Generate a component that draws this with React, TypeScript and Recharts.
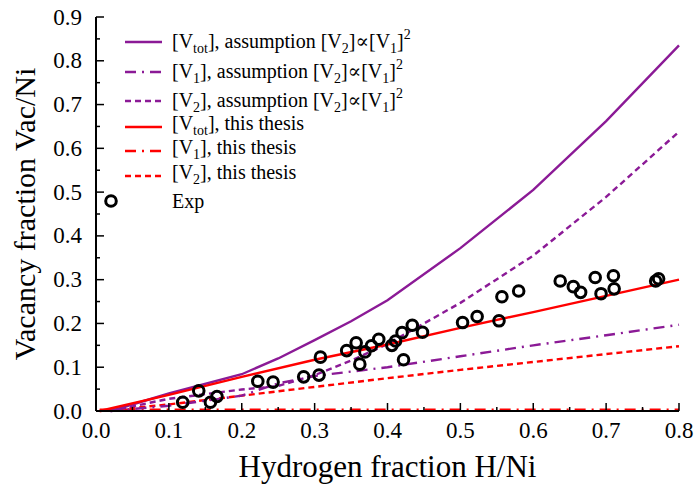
import { ComposedChart, Line, Scatter, XAxis, YAxis } from 'recharts';

// tick positions (labels only on every 0.1)
const xTicks = [0, 0.05, 0.1, 0.15, 0.2, 0.25, 0.3, 0.35, 0.4, 0.45, 0.5, 0.55, 0.6, 0.65, 0.7, 0.75, 0.8];
const yTicks = [0, 0.05, 0.1, 0.15, 0.2, 0.25, 0.3, 0.35, 0.4, 0.45, 0.5, 0.55, 0.6, 0.65, 0.7, 0.75, 0.8, 0.85, 0.9];

// assumption [V2] ~ [V1]^2 (purple)
const assumpX = [0.02, 0.1, 0.2, 0.25, 0.3, 0.35, 0.4, 0.5, 0.6, 0.7, 0.8];
const assumpVtot = [0, 0.04, 0.084, 0.12, 0.162, 0.205, 0.253, 0.372, 0.505, 0.662, 0.835];
const assumpV1 = [0, 0.012, 0.035, 0.063, 0.08, 0.09, 0.1, 0.125, 0.15, 0.173, 0.197];
const assumpV2 = [0, 0.028, 0.049, 0.057, 0.082, 0.115, 0.153, 0.247, 0.355, 0.489, 0.638];

// this thesis (red)
const thesisX = [0.005, 0.1, 0.2, 0.3, 0.4, 0.5, 0.6, 0.7, 0.8];
const thesisVtot = [0, 0.037, 0.078, 0.117, 0.152, 0.19, 0.226, 0.263, 0.3];
const thesisV1 = [0.003, 0.003, 0.003, 0.003, 0.003, 0.003, 0.003, 0.003, 0.003];
const thesisV2 = [0, 0.015, 0.035, 0.055, 0.075, 0.094, 0.112, 0.13, 0.148];

// experimental points
const expX = [0.119, 0.141, 0.157, 0.166, 0.222, 0.243, 0.285, 0.306, 0.308, 0.344, 0.357, 0.362, 0.369, 0.378, 0.388, 0.406, 0.411, 0.42, 0.422, 0.434, 0.448, 0.503, 0.523, 0.553, 0.557, 0.58, 0.637, 0.655, 0.665, 0.685, 0.693, 0.71, 0.711, 0.768, 0.772];
const expY = [0.02, 0.046, 0.02, 0.033, 0.068, 0.066, 0.078, 0.082, 0.123, 0.138, 0.156, 0.107, 0.135, 0.149, 0.164, 0.15, 0.16, 0.179, 0.117, 0.196, 0.18, 0.202, 0.216, 0.206, 0.261, 0.274, 0.297, 0.284, 0.271, 0.305, 0.268, 0.309, 0.279, 0.297, 0.302];

const PURPLE = '#8b1a96';
const RED = '#ff0000';
const DASHDOT = '11 6 2 6';
const DASHED = '6 4';
const FONT = '"Liberation Serif", "DejaVu Serif", serif';

const toPts = (xs: number[], ys: number[]) => xs.map((x, i) => ({ x, y: ys[i] }));

const isMajor = (v: number) => Math.round(v * 100) % 10 === 0;

const BottomTick = ({ x, y, payload }: any) => (
  <g>
    <line x1={x} y1={y} x2={x} y2={y - (isMajor(payload.value) ? 8 : 4)} stroke="#000" strokeWidth={1.5} />
    {isMajor(payload.value) && (
      <text x={x} y={y + 27} textAnchor="middle" fill="#000" style={{ fontSize: 23, fontFamily: FONT }}>
        {payload.value.toFixed(1)}
      </text>
    )}
  </g>
);
const TopTick = ({ x, y, payload }: any) => (
  <line x1={x} y1={y} x2={x} y2={y + (isMajor(payload.value) ? 8 : 4)} stroke="#000" strokeWidth={1.5} />
);
const LeftTick = ({ x, y, payload }: any) => (
  <g>
    <line x1={x} y1={y} x2={x + (isMajor(payload.value) ? 8 : 4)} y2={y} stroke="#000" strokeWidth={1.5} />
    {isMajor(payload.value) && (
      <text x={x - 14} y={y} textAnchor="end" dominantBaseline="central" fill="#000" style={{ fontSize: 23, fontFamily: FONT }}>
        {payload.value.toFixed(1)}
      </text>
    )}
  </g>
);
const RightTick = ({ x, y, payload }: any) => (
  <line x1={x} y1={y} x2={x - (isMajor(payload.value) ? 8 : 4)} y2={y} stroke="#000" strokeWidth={1.5} />
);

const Ring = ({ cx, cy }: any) => <circle cx={cx} cy={cy} r={5.3} fill="none" stroke="#000" strokeWidth={3} />;

const sub = (t: string) => <span style={{ fontSize: 14, verticalAlign: -5 }}>{t}</span>;
const sup = (t: string) => <span style={{ fontSize: 14, verticalAlign: 9 }}>{t}</span>;
const assumption = (
  <>
    , assumption [V{sub('2')}]∝[V{sub('1')}]{sup('2')}
  </>
);

const legendRows = [
  { color: PURPLE, dash: undefined, label: <>[V{sub('tot')}]{assumption}</>, top: 42 },
  { color: PURPLE, dash: DASHDOT, label: <>[V{sub('1')}]{assumption}</>, top: 72 },
  { color: PURPLE, dash: DASHED, label: <>[V{sub('2')}]{assumption}</>, top: 101 },
  { color: RED, dash: undefined, label: <>[V{sub('tot')}], this thesis</>, top: 127 },
  { color: RED, dash: DASHDOT, label: <>[V{sub('1')}], this thesis</>, top: 151 },
  { color: RED, dash: DASHED, label: <>[V{sub('2')}], this thesis</>, top: 176 },
];

export default function App() {
  return (
    <div style={{ position: 'fixed', left: 0, top: 0, width: 695, height: 484, background: '#fff', fontFamily: FONT }}>
      <ComposedChart width={695} height={484} margin={{ top: 17, right: 16, bottom: 0, left: 0 }}>
        <XAxis
          dataKey="x"
          type="number"
          domain={[0, 0.8]}
          ticks={xTicks}
          interval={0}
          height={73}
          tickSize={0}
          tickMargin={0}
          axisLine={{ stroke: '#000', strokeWidth: 2 }}
          tickLine={false}
          tick={<BottomTick />}
          label={({ viewBox }: any) => (
            <text x={viewBox.x + viewBox.width / 2} y={viewBox.y + 66} textAnchor="middle" fill="#000" style={{ fontSize: 31, fontFamily: FONT }}>
              Hydrogen fraction H/Ni
            </text>
          )}
        />
        <XAxis
          xAxisId="top"
          orientation="top"
          type="number"
          domain={[0, 0.8]}
          ticks={xTicks}
          interval={0}
          height={0}
          tickSize={0}
          tickMargin={0}
          axisLine={{ stroke: '#000', strokeWidth: 2 }}
          tickLine={false}
          tick={<TopTick />}
        />
        <YAxis
          type="number"
          domain={[0, 0.9]}
          ticks={yTicks}
          interval={0}
          width={96}
          tickSize={0}
          tickMargin={0}
          axisLine={{ stroke: '#000', strokeWidth: 2 }}
          tickLine={false}
          tick={<LeftTick />}
          label={({ viewBox }: any) => (
            <text
              x={24}
              y={viewBox.y + viewBox.height / 2}
              transform={`rotate(-90 24 ${viewBox.y + viewBox.height / 2})`}
              textAnchor="middle"
              dominantBaseline="central"
              fill="#000"
              style={{ fontSize: 30, fontFamily: FONT }}
            >
              Vacancy fraction Vac/Ni
            </text>
          )}
        />
        <YAxis
          yAxisId="right"
          orientation="right"
          type="number"
          domain={[0, 0.9]}
          ticks={yTicks}
          interval={0}
          width={0}
          tickSize={0}
          tickMargin={0}
          axisLine={{ stroke: '#000', strokeWidth: 2 }}
          tickLine={false}
          tick={<RightTick />}
        />
        <Line data={toPts(thesisX, thesisV1)} dataKey="y" stroke={RED} strokeWidth={2.4} strokeDasharray={DASHDOT} dot={false} isAnimationActive={false} />
        <Line data={toPts(thesisX, thesisV2)} dataKey="y" stroke={RED} strokeWidth={2.4} strokeDasharray={DASHED} dot={false} isAnimationActive={false} />
        <Line data={toPts(assumpX, assumpV1)} dataKey="y" stroke={PURPLE} strokeWidth={2.4} strokeDasharray={DASHDOT} dot={false} isAnimationActive={false} />
        <Line data={toPts(assumpX, assumpV2)} dataKey="y" stroke={PURPLE} strokeWidth={2.4} strokeDasharray={DASHED} dot={false} isAnimationActive={false} />
        <Line data={toPts(assumpX, assumpVtot)} dataKey="y" stroke={PURPLE} strokeWidth={2.4} dot={false} isAnimationActive={false} />
        <Line data={toPts(thesisX, thesisVtot)} dataKey="y" stroke={RED} strokeWidth={2.4} dot={false} isAnimationActive={false} />
        <Scatter data={toPts(expX, expY)} dataKey="y" shape={<Ring />} isAnimationActive={false} />
      </ComposedChart>

      {legendRows.map((r, i) => (
        <div key={i} style={{ position: 'absolute', left: 124, top: r.top - 13, height: 26, display: 'flex', alignItems: 'center', whiteSpace: 'nowrap', fontSize: 20, lineHeight: '26px' }}>
          <svg width={40} height={26} style={{ display: 'block' }}>
            <line x1={1} y1={13} x2={38} y2={13} stroke={r.color} strokeWidth={2.4} strokeDasharray={r.dash} />
          </svg>
          <span style={{ marginLeft: 8 }}>{r.label}</span>
        </div>
      ))}
      <div style={{ position: 'absolute', left: 104, top: 188, height: 26, display: 'flex', alignItems: 'center', fontSize: 20, lineHeight: '26px' }}>
        <svg width={68} height={26} style={{ display: 'block' }}>
          <circle cx={7} cy={13} r={5.3} fill="none" stroke="#000" strokeWidth={3} />
        </svg>
        <span>Exp</span>
      </div>
    </div>
  );
}
